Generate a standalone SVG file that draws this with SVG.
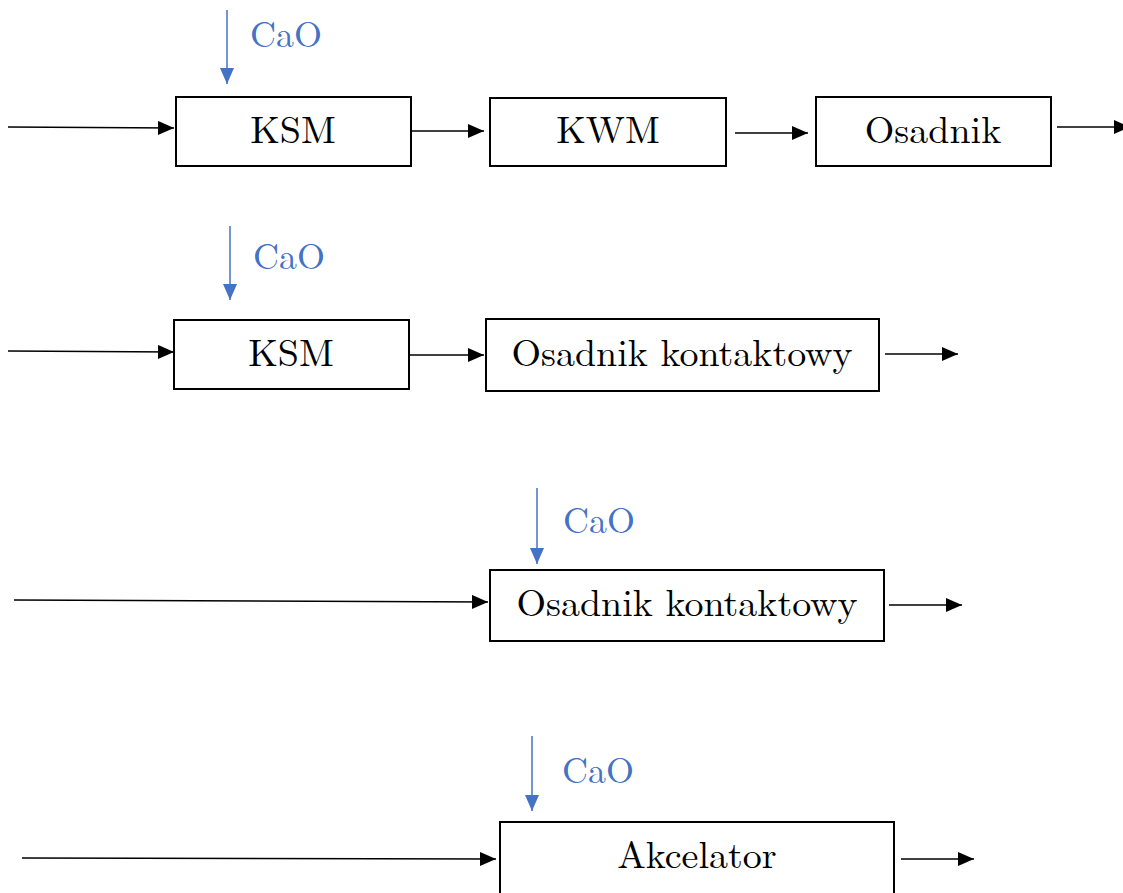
<svg xmlns="http://www.w3.org/2000/svg" width="1123" height="893" viewBox="0 0 1123 893">
<style>
text{font-family:"Latin Modern Roman","Liberation Serif",serif}
.box{fill:#fff;stroke:#000;stroke-width:2}
.lbl{font-size:38px;fill:#000;text-anchor:middle}
.cao{font-size:36px;fill:#4472C4}
.flow{stroke:#000;stroke-width:1.5;fill:none}
.dose{stroke:#4472C4;stroke-width:1.5;fill:none}
</style>
<defs>
<marker id="ah" markerUnits="userSpaceOnUse" markerWidth="16" markerHeight="14" refX="16" refY="7" orient="auto"><path d="M0,0 L16,7 L0,14 Z" fill="#000"/></marker>
<marker id="ab" markerUnits="userSpaceOnUse" markerWidth="16" markerHeight="14" refX="16" refY="7" orient="auto"><path d="M0,0 L16,7 L0,14 Z" fill="#4472C4"/></marker>
</defs>
<g id="connectors">
<line class="flow" x1="8" y1="127" x2="174" y2="128" marker-end="url(#ah)"/>
<line class="flow" x1="411" y1="131" x2="484" y2="131" marker-end="url(#ah)"/>
<line class="flow" x1="735" y1="133" x2="808" y2="133" marker-end="url(#ah)"/>
<line class="flow" x1="1057" y1="127" x2="1130" y2="127" marker-end="url(#ah)"/>
<line class="dose" x1="227" y1="10" x2="227" y2="84" marker-end="url(#ab)"/>
<line class="flow" x1="8" y1="351" x2="174" y2="352" marker-end="url(#ah)"/>
<line class="flow" x1="409" y1="355" x2="484" y2="355" marker-end="url(#ah)"/>
<line class="flow" x1="885" y1="354" x2="958" y2="354" marker-end="url(#ah)"/>
<line class="dose" x1="230" y1="226" x2="230" y2="300" marker-end="url(#ab)"/>
<line class="flow" x1="14" y1="600" x2="488" y2="602" marker-end="url(#ah)"/>
<line class="flow" x1="889" y1="605" x2="962" y2="605" marker-end="url(#ah)"/>
<line class="dose" x1="537" y1="488" x2="537" y2="564" marker-end="url(#ab)"/>
<line class="flow" x1="22" y1="858" x2="496" y2="859" marker-end="url(#ah)"/>
<line class="flow" x1="901" y1="859" x2="974" y2="859" marker-end="url(#ah)"/>
<line class="dose" x1="532" y1="736" x2="532" y2="811" marker-end="url(#ab)"/>
</g>
<g id="cao1"><text class="cao" x="250" y="47">CaO</text></g>
<g id="ksm1"><rect class="box" x="176" y="97" width="235" height="69"/><text class="lbl" x="293" y="143">KSM</text></g>
<g id="kwm"><rect class="box" x="490" y="98" width="236" height="68"/><text class="lbl" x="608" y="143">KWM</text></g>
<g id="osadnik"><rect class="box" x="816" y="97" width="235" height="69"/><text class="lbl" x="933" y="143">Osadnik</text></g>
<g id="cao2"><text class="cao" x="253" y="269">CaO</text></g>
<g id="ksm2"><rect class="box" x="174" y="320" width="235" height="69"/><text class="lbl" x="291" y="366">KSM</text></g>
<g id="osk1"><rect class="box" x="486" y="319" width="393" height="72"/><text class="lbl" x="682" y="366">Osadnik kontaktowy</text></g>
<g id="cao3"><text class="cao" x="563" y="533">CaO</text></g>
<g id="osk2"><rect class="box" x="490" y="570" width="394" height="71"/><text class="lbl" x="687" y="616">Osadnik kontaktowy</text></g>
<g id="cao4"><text class="cao" x="562" y="783">CaO</text></g>
<g id="akcelator"><rect class="box" x="500" y="822" width="394" height="80"/><text class="lbl" x="697" y="868">Akcelator</text></g>
</svg>
